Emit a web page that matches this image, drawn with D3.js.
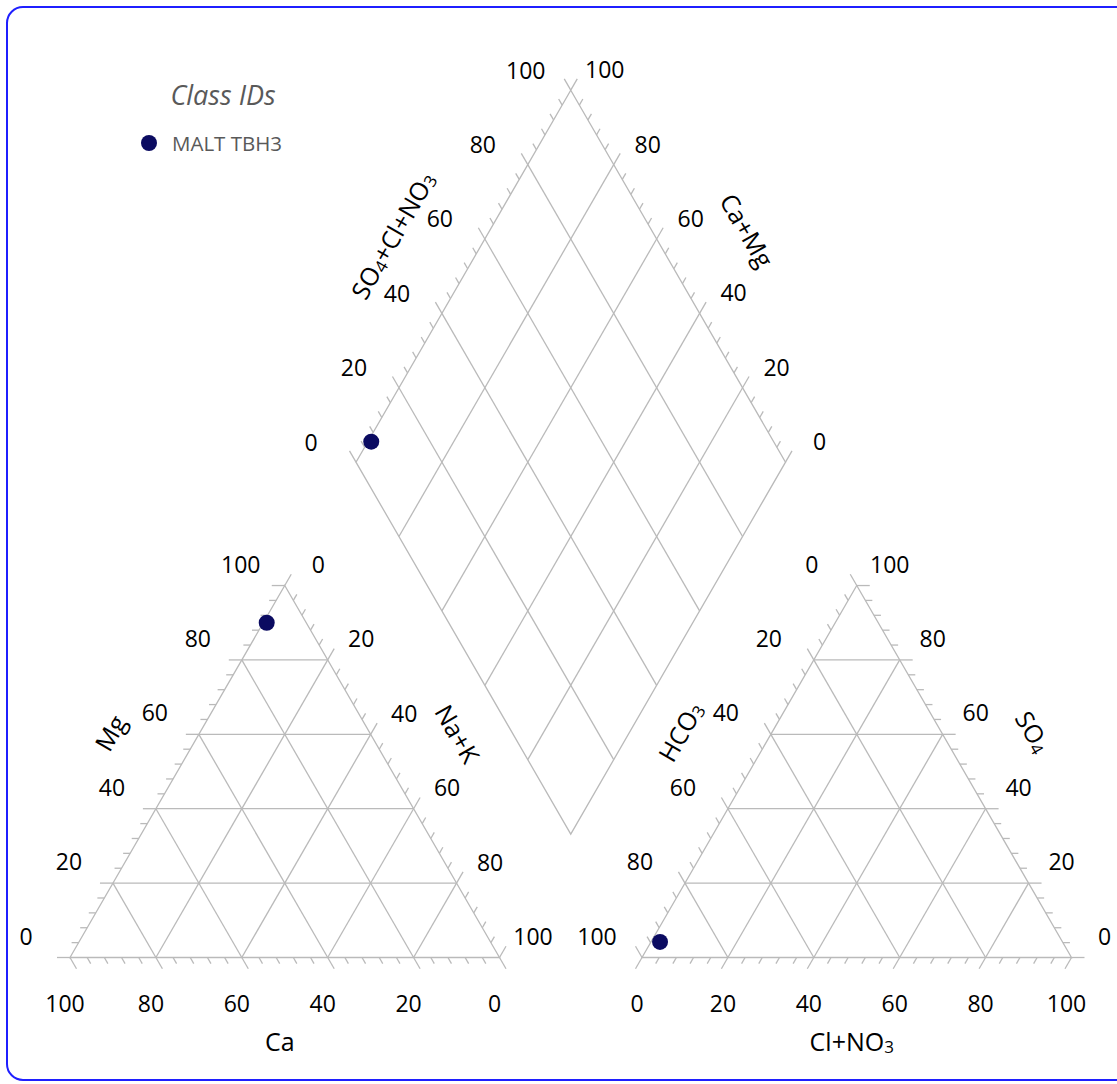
<!DOCTYPE html>
<html>
<head>
<meta charset="utf-8">
<style>
    body { margin: 0; background: #fff; }
    text { font-family: "Open Sans", sans-serif; }
</style>
</head>
<body>
<svg id="container" width="1117" height="1084">
    <g id="frame" />
    <g id="cation" />
    <g id="anion" />
    <g id="diamond" />
    <g id="legend" />
</svg>
<script src="https://d3js.org/d3.v7.min.js"></script>
<script>
    // sample (percent of meq/l)
    let sampleIds = ["MALT TBH3"]
    let caPct = [9.2]
    let mgPct = [90.0]
    let naKPct = [0.8]
    let hco3Pct = [93.7]
    let clNo3Pct = [2.1]
    let so4Pct = [4.2]

    let tickValues = [0, 20, 40, 60, 80, 100]
    let minorStep = 4

    let gridColor = "#bababa"
    let pointColor = "#0b0b61"
    let numSize = 23
    let titleSize = 25

    const SQ3 = Math.sqrt(3)
    let side = 429.5
    let baseY = 957.5
    let x0 = 70
    let gap = 142.5
    let h = side * SQ3 / 2

    let pct = d3.scaleLinear().domain([0, 100]).range([0, 1])

    let svg = d3.select("#container")

    // frame
    d3.select("#frame").append("rect")
        .attr("x", 7).attr("y", 7)
        .attr("width", 1140).attr("height", 1073)
        .attr("rx", 16)
        .attr("fill", "none")
        .attr("stroke", "#1f1fff")
        .attr("stroke-width", 2)

    function bary(V, vals) {
        return [d3.sum(vals, (p, i) => pct(p) * V[i][0]), d3.sum(vals, (p, i) => pct(p) * V[i][1])]
    }

    function unit(a, b) {
        let dx = b[0] - a[0], dy = b[1] - a[1]
        let l = Math.hypot(dx, dy)
        return [dx / l, dy / l]
    }

    function addTitle(g, parts, x, y, angle) {
        let t = g.append("text")
            .attr("transform", `translate(${x},${y}) rotate(${angle})`)
            .attr("text-anchor", "middle")
            .attr("dominant-baseline", "central")
            .attr("font-size", titleSize)
            .attr("fill", "#000")
        parts.forEach(p => {
            let s = t.append("tspan").text(p.t)
            if (p.sub) s.attr("font-size", 17).attr("baseline-shift", "-35%")
        })
    }

    function drawTick(g, p, dir, len) {
        g.append("line")
            .attr("x1", p[0]).attr("y1", p[1])
            .attr("x2", p[0] + dir[0] * len).attr("y2", p[1] + dir[1] * len)
            .attr("stroke", gridColor).attr("stroke-width", 1.3)
    }

    function drawTriangle(g, V, axes) {
        // outline
        g.append("path")
            .attr("d", d3.line()(V) + "Z")
            .attr("fill", "none").attr("stroke", gridColor).attr("stroke-width", 1.3)

        let centroid = [d3.mean(V, d => d[0]), d3.mean(V, d => d[1])]

        axes.forEach(ax => {
            let i = ax.comp, j = ax.zero, k = 3 - i - j
            // grid
            tickValues.slice(1, -1).forEach(v => {
                let a = [0, 0, 0], b = [0, 0, 0]
                a[i] = v; a[j] = 100 - v
                b[i] = v; b[k] = 100 - v
                let p = bary(V, a), q = bary(V, b)
                g.append("line")
                    .attr("x1", p[0]).attr("y1", p[1]).attr("x2", q[0]).attr("y2", q[1])
                    .attr("stroke", gridColor).attr("stroke-width", 1.3)
            })
            // ticks
            let dir = unit(V[j], V[k])
            d3.range(0, 100 + minorStep, minorStep).forEach(v => {
                let vals = [0, 0, 0]
                vals[i] = v; vals[k] = 100 - v
                let p = bary(V, vals)
                drawTick(g, p, dir, v % 20 === 0 ? 13 : 7)
            })
            // labels
            tickValues.forEach(v => {
                let vals = [0, 0, 0]
                vals[i] = v; vals[k] = 100 - v
                let p = bary(V, vals)
                g.append("text")
                    .attr("x", p[0] + ax.offset[0]).attr("y", p[1] + ax.offset[1])
                    .attr("text-anchor", "middle")
                    .attr("dominant-baseline", "central")
                    .attr("font-size", numSize)
                    .text(v)
            })
            // title
            let m = [(V[i][0] + V[k][0]) / 2, (V[i][1] + V[k][1]) / 2]
            let n = unit(centroid, m)
            let ang = Math.atan2(V[k][1] - V[i][1], V[k][0] - V[i][0]) * 180 / Math.PI
            if (ang > 90) ang -= 180
            if (ang <= -90) ang += 180
            addTitle(g, ax.title, m[0] + n[0] * ax.dist + (ax.dx || 0), m[1] + n[1] * ax.dist, ang)
        })
    }

    // cation triangle: [Ca, Mg, Na+K]
    let catV = [[x0, baseY], [x0 + side / 2, baseY - h], [x0 + side, baseY]]
    drawTriangle(d3.select("#cation"), catV, [
        { comp: 0, zero: 1, offset: [-5, 45.5], title: [{ t: "Ca" }], dist: 83, dx: -5 },
        { comp: 1, zero: 2, offset: [-44, -22], title: [{ t: "Mg" }], dist: 78 },
        { comp: 2, zero: 0, offset: [33.5, -21.5], title: [{ t: "Na+K" }], dist: 76 }
    ])

    // anion triangle: [HCO3, SO4, Cl+NO3]
    let ax0 = x0 + side + gap
    let anV = [[ax0, baseY], [ax0 + side / 2, baseY - h], [ax0 + side, baseY]]
    drawTriangle(d3.select("#anion"), anV, [
        { comp: 2, zero: 1, offset: [-5, 45.5], title: [{ t: "Cl+NO" }, { t: "3", sub: true }], dist: 83, dx: -5 },
        { comp: 1, zero: 0, offset: [33, -22], title: [{ t: "SO" }, { t: "4", sub: true }], dist: 80 },
        { comp: 0, zero: 2, offset: [-45, -22], title: [{ t: "HCO" }, { t: "3", sub: true }], dist: 80 }
    ])

    // diamond
    let dB = [x0 + side + gap / 2, baseY - gap / 2 * SQ3]
    let dL = [dB[0] - side / 2, dB[1] - h]
    let dR = [dB[0] + side / 2, dB[1] - h]
    let dT = [dB[0], dB[1] - 2 * h]
    function dia(u, w) {
        return [dB[0] + pct(u) * (dL[0] - dB[0]) + pct(w) * (dR[0] - dB[0]),
                dB[1] + pct(u) * (dL[1] - dB[1]) + pct(w) * (dR[1] - dB[1])]
    }
    let dg = d3.select("#diamond")
    dg.append("path")
        .attr("d", d3.line()([dB, dL, dT, dR]) + "Z")
        .attr("fill", "none").attr("stroke", gridColor).attr("stroke-width", 1.3)
    tickValues.slice(1, -1).forEach(v => {
        [[dia(v, 0), dia(v, 100)], [dia(0, v), dia(100, v)]].forEach(([p, q]) => {
            dg.append("line")
                .attr("x1", p[0]).attr("y1", p[1]).attr("x2", q[0]).attr("y2", q[1])
                .attr("stroke", gridColor).attr("stroke-width", 1.3)
        })
    })
    let dirUL = unit(dB, dL), dirUR = unit(dB, dR)
    d3.range(0, 100 + minorStep, minorStep).forEach(v => {
        let len = v % 20 === 0 ? 13 : 7
        drawTick(dg, dia(100, v), dirUL, len)
        drawTick(dg, dia(v, 100), dirUR, len)
    })
    tickValues.forEach(v => {
        let p = dia(100, v)
        dg.append("text").attr("x", p[0] - 45).attr("y", p[1] - 20.5)
            .attr("text-anchor", "middle").attr("dominant-baseline", "central")
            .attr("font-size", numSize).text(v)
        let q = dia(v, 100)
        dg.append("text").attr("x", q[0] + 34).attr("y", q[1] - 21)
            .attr("text-anchor", "middle").attr("dominant-baseline", "central")
            .attr("font-size", numSize).text(v)
    })
    let mTL = [(dL[0] + dT[0]) / 2, (dL[1] + dT[1]) / 2]
    let mTR = [(dT[0] + dR[0]) / 2, (dT[1] + dR[1]) / 2]
    addTitle(dg, [{ t: "SO" }, { t: "4", sub: true }, { t: "+Cl+NO" }, { t: "3", sub: true }],
        mTL[0] - 0.866 * 82, mTL[1] - 0.5 * 82, -60)
    addTitle(dg, [{ t: "Ca+Mg" }], mTR[0] + 0.866 * 80, mTR[1] - 0.5 * 80 - 6, 60)

    // points
    sampleIds.forEach((id, n) => {
        let p1 = bary(catV, [caPct[n], mgPct[n], naKPct[n]])
        let p2 = bary(anV, [hco3Pct[n], so4Pct[n], clNo3Pct[n]])
        let p3 = dia(caPct[n] + mgPct[n], so4Pct[n] + clNo3Pct[n])
        svg.append("g").selectAll("circle")
            .data([p1, p2, p3])
            .enter().append("circle")
            .attr("cx", d => d[0]).attr("cy", d => d[1])
            .attr("r", 8)
            .attr("fill", pointColor)
    })

    // legend
    let legend = d3.select("#legend")
    legend.append("text")
        .attr("x", 223).attr("y", 105)
        .attr("text-anchor", "middle")
        .attr("font-size", 27)
        .attr("font-style", "italic")
        .attr("fill", "#595959")
        .text("Class IDs")
    legend.selectAll(".item")
        .data(sampleIds)
        .enter().append("g")
        .attr("class", "item")
        .attr("transform", (d, i) => `translate(149,${143 + i * 26})`)
        .each(function (d) {
            let g = d3.select(this)
            g.append("circle").attr("r", 8).attr("fill", pointColor)
            g.append("text").attr("x", 23).attr("y", 7.5)
                .attr("font-size", 20.5).attr("fill", "#595959").text(d)
        })
</script>
</body>
</html>
